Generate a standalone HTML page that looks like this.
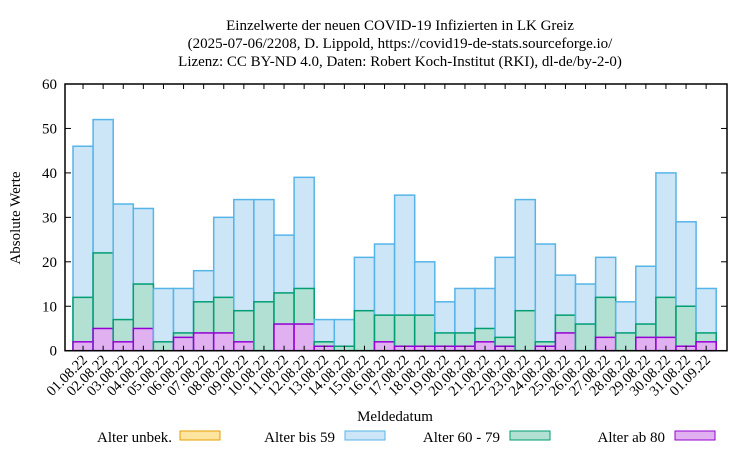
<!DOCTYPE html>
<html><head><meta charset="utf-8"><style>body{margin:0;background:#fff}svg{display:block;font-family:"Liberation Serif",serif}</style></head>
<body>
<svg id="s" width="750" height="450" viewBox="0 0 750 450" xmlns="http://www.w3.org/2000/svg">
<rect width="750" height="450" fill="#fff"/>
<g font-size="15" text-anchor="middle" fill="#000">
<text x="400" y="30">Einzelwerte der neuen COVID-19 Infizierten in LK Greiz</text>
<text x="400" y="48">(2025-07-06/2208, D. Lippold, https://covid19-de-stats.sourceforge.io/</text>
<text x="400" y="66">Lizenz: CC BY-ND 4.0, Daten: Robert Koch-Institut (RKI), dl-de/by-2-0)</text>
</g>
<g id="bars"></g>
<g id="axes"></g>
<text x="20" y="218" font-size="15" text-anchor="middle" transform="rotate(-90 20 218)">Absolute Werte</text>
<text x="395" y="421" font-size="15" text-anchor="middle">Meldedatum</text>
<g font-size="15" text-anchor="end">
<text x="172" y="442">Alter unbek.</text>
<rect x="180" y="431" width="40" height="9" fill="#fde49f" stroke="#e69f00"/>
<text x="335" y="442">Alter bis 59</text>
<rect x="345" y="431" width="40" height="9" fill="#cde6f7" stroke="#56b4e9"/>
<text x="500" y="442">Alter 60 - 79</text>
<rect x="510" y="431" width="40" height="9" fill="#b2e0d3" stroke="#009e73"/>
<text x="665" y="442">Alter ab 80</text>
<rect x="675" y="431" width="40" height="9" fill="#e0b0f0" stroke="#9400d3"/>
</g>
</svg>
<script>
var d=[[46,12,2],[52,22,5],[33,7,2],[32,15,5],[14,2,0],[14,4,3],[18,11,4],[30,12,4],[34,9,2],[34,11,0],[26,13,6],[39,14,6],[7,2,1],[7,1,0],[21,9,0],[24,8,2],[35,8,1],[20,8,1],[11,4,1],[14,4,1],[14,5,2],[21,3,1],[34,9,0],[24,2,1],[17,8,4],[15,6,0],[21,12,3],[11,4,0],[19,6,3],[40,12,3],[29,10,1],[14,4,2]];
var labels=[];for(var i=1;i<=31;i++)labels.push((i<10?"0":"")+i+".08.22");labels.push("01.09.22");
var y0=350.7,k=4.445,x0=73,w=20.1,b="",a="";
function r(x,v,f,s){if(v<=0)return "";return '<rect x="'+x+'" y="'+(y0-v*k)+'" width="'+w+'" height="'+(v*k)+'" fill="'+f+'" stroke="'+s+'" stroke-width="1.5"/>';}
d.forEach(function(e,i){var x=x0+i*w;b+=r(x,e[0],"#cde6f7","#56b4e9")+r(x,e[1],"#b2e0d3","#009e73")+r(x,e[2],"#e0b0f0","#9400d3");
var cx=x+w/2;a+='<line x1="'+cx+'" y1="'+y0+'" x2="'+cx+'" y2="'+(y0-5)+'" stroke="#000"/><line x1="'+cx+'" y1="84" x2="'+cx+'" y2="89" stroke="#000"/>';
a+='<text font-size="14.5" text-anchor="end" transform="translate('+(cx+5)+' '+(y0+10)+') rotate(-45)">'+labels[i]+'</text>';});
for(var v=0;v<=60;v+=10){var y=y0-v*k;a+='<line x1="65" y1="'+y+'" x2="71" y2="'+y+'" stroke="#000"/><line x1="721" y1="'+y+'" x2="727" y2="'+y+'" stroke="#000"/><text x="57" y="'+(y+5)+'" font-size="15" text-anchor="end">'+v+'</text>';}
a+='<rect x="65" y="84" width="662" height="266.7" fill="none" stroke="#000" stroke-width="1.5"/>';
document.getElementById("bars").innerHTML=b;document.getElementById("axes").innerHTML=a;
</script>
</body></html>
